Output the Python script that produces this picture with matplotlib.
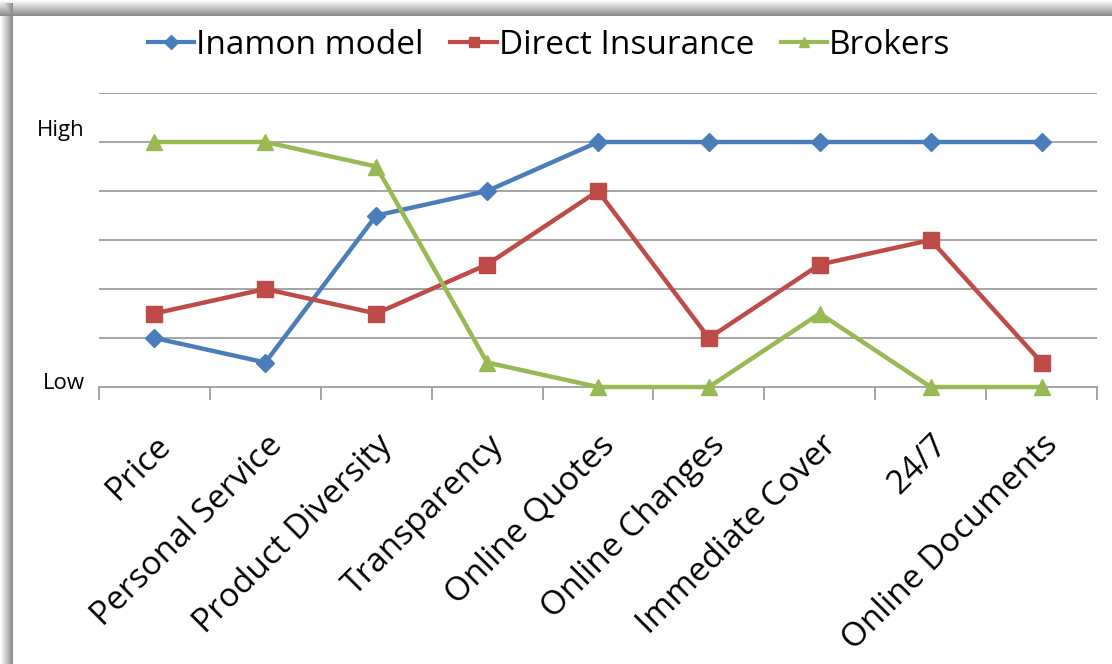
import matplotlib
matplotlib.use('Agg')
import matplotlib.pyplot as plt
import matplotlib.transforms as mtransforms
import numpy as np

# --- Data (0 = Low, 5 = High) ---
categories = ['Price', 'Personal Service', 'Product Diversity', 'Transparency',
              'Online Quotes', 'Online Changes', 'Immediate Cover', '24/7',
              'Online Documents']
inamon_model = [1, 0.5, 3.5, 4, 5, 5, 5, 5, 5]
direct_insurance = [1.5, 2, 1.5, 2.5, 4, 1, 2.5, 3, 0.5]
brokers = [5, 5, 4.5, 0.5, 0, 0, 1.5, 0, 0]
series_names = ['Inamon model', 'Direct Insurance', 'Brokers']
ytick_values = [0, 5]
ytick_labels = ['Low', 'High']

W, H = 1112, 664
fig = plt.figure(figsize=(W / 100, H / 100), dpi=100)
plt.rcParams['font.family'] = ['Open Sans', 'DejaVu Sans']

# --- Shadowed frame behind the chart ---
bg = np.ones((H, W))
yy, xx = np.mgrid[0:H, 0:W]
top = np.clip(yy / 15.0, 0, 1)
left = np.clip(xx / 12.0, 0, 1)
bg = np.where(yy < 16, 1 - 0.45 * top, bg)
bg = np.where((xx < 13) & (yy >= 3), np.minimum(bg, 1 - 0.45 * left), bg)
bgax = fig.add_axes([0, 0, 1, 1])
bgax.imshow(bg, cmap='gray', vmin=0, vmax=1, aspect='auto', interpolation='bilinear')
bgax.axis('off')

# --- Plot area ---
ax = fig.add_axes([99 / W, 1 - 387 / H, (1097 - 99) / W, (387 - 93) / H])
ax.set_facecolor('none')
x = np.arange(len(categories))

colors = ['#4A7EBB', '#BE4B48', '#98B954']
markers = ['D', 's', '^']
msizes = [9, 11, 11]
for vals, name, c, m, ms in zip([inamon_model, direct_insurance, brokers],
                                series_names, colors, markers, msizes):
    ax.plot(x, vals, color=c, lw=3.2, marker=m, ms=ms, label=name,
            solid_joinstyle='round', clip_on=False, zorder=3)

ax.set_xlim(-0.5, len(categories) - 0.5)
ax.set_ylim(0, 6)
for gy in range(1, 7):
    ax.axhline(gy, color='#8c8c8c', lw=1.1, zorder=1)

ax.set_yticks(ytick_values)
ax.set_yticklabels(ytick_labels, fontsize=16)
ax.tick_params(axis='y', length=0, pad=10)
# Excel puts the axis labels slightly above their gridlines
for lab, dy in zip(ax.get_yticklabels(), [6, 14]):
    lab.set_transform(lab.get_transform() +
                      mtransforms.ScaledTranslation(0, dy / 100, fig.dpi_scale_trans))

ax.set_xticks(x)
ax.set_xticklabels(categories, rotation=45, ha='right', rotation_mode='anchor',
                   fontsize=24)
ax.tick_params(axis='x', length=0, pad=30)
ax.set_xticks(np.arange(-0.5, len(categories)), minor=True)
ax.tick_params(axis='x', which='minor', length=9, color='#8c8c8c', width=1.1)

for s in ['top', 'right', 'left']:
    ax.spines[s].set_visible(False)
ax.spines['bottom'].set_color('#8c8c8c')
ax.spines['bottom'].set_linewidth(1.1)

leg = fig.legend(loc='center', bbox_to_anchor=(549 / W, 1 - 45 / H), ncol=3,
                 frameon=False, fontsize=24, handlelength=1.4, handletextpad=0.05,
                 columnspacing=0.8)
for h in leg.legend_handles:
    h.set_markersize(7)
    h.set_linewidth(3)

fig.savefig('out.png', dpi=100)
